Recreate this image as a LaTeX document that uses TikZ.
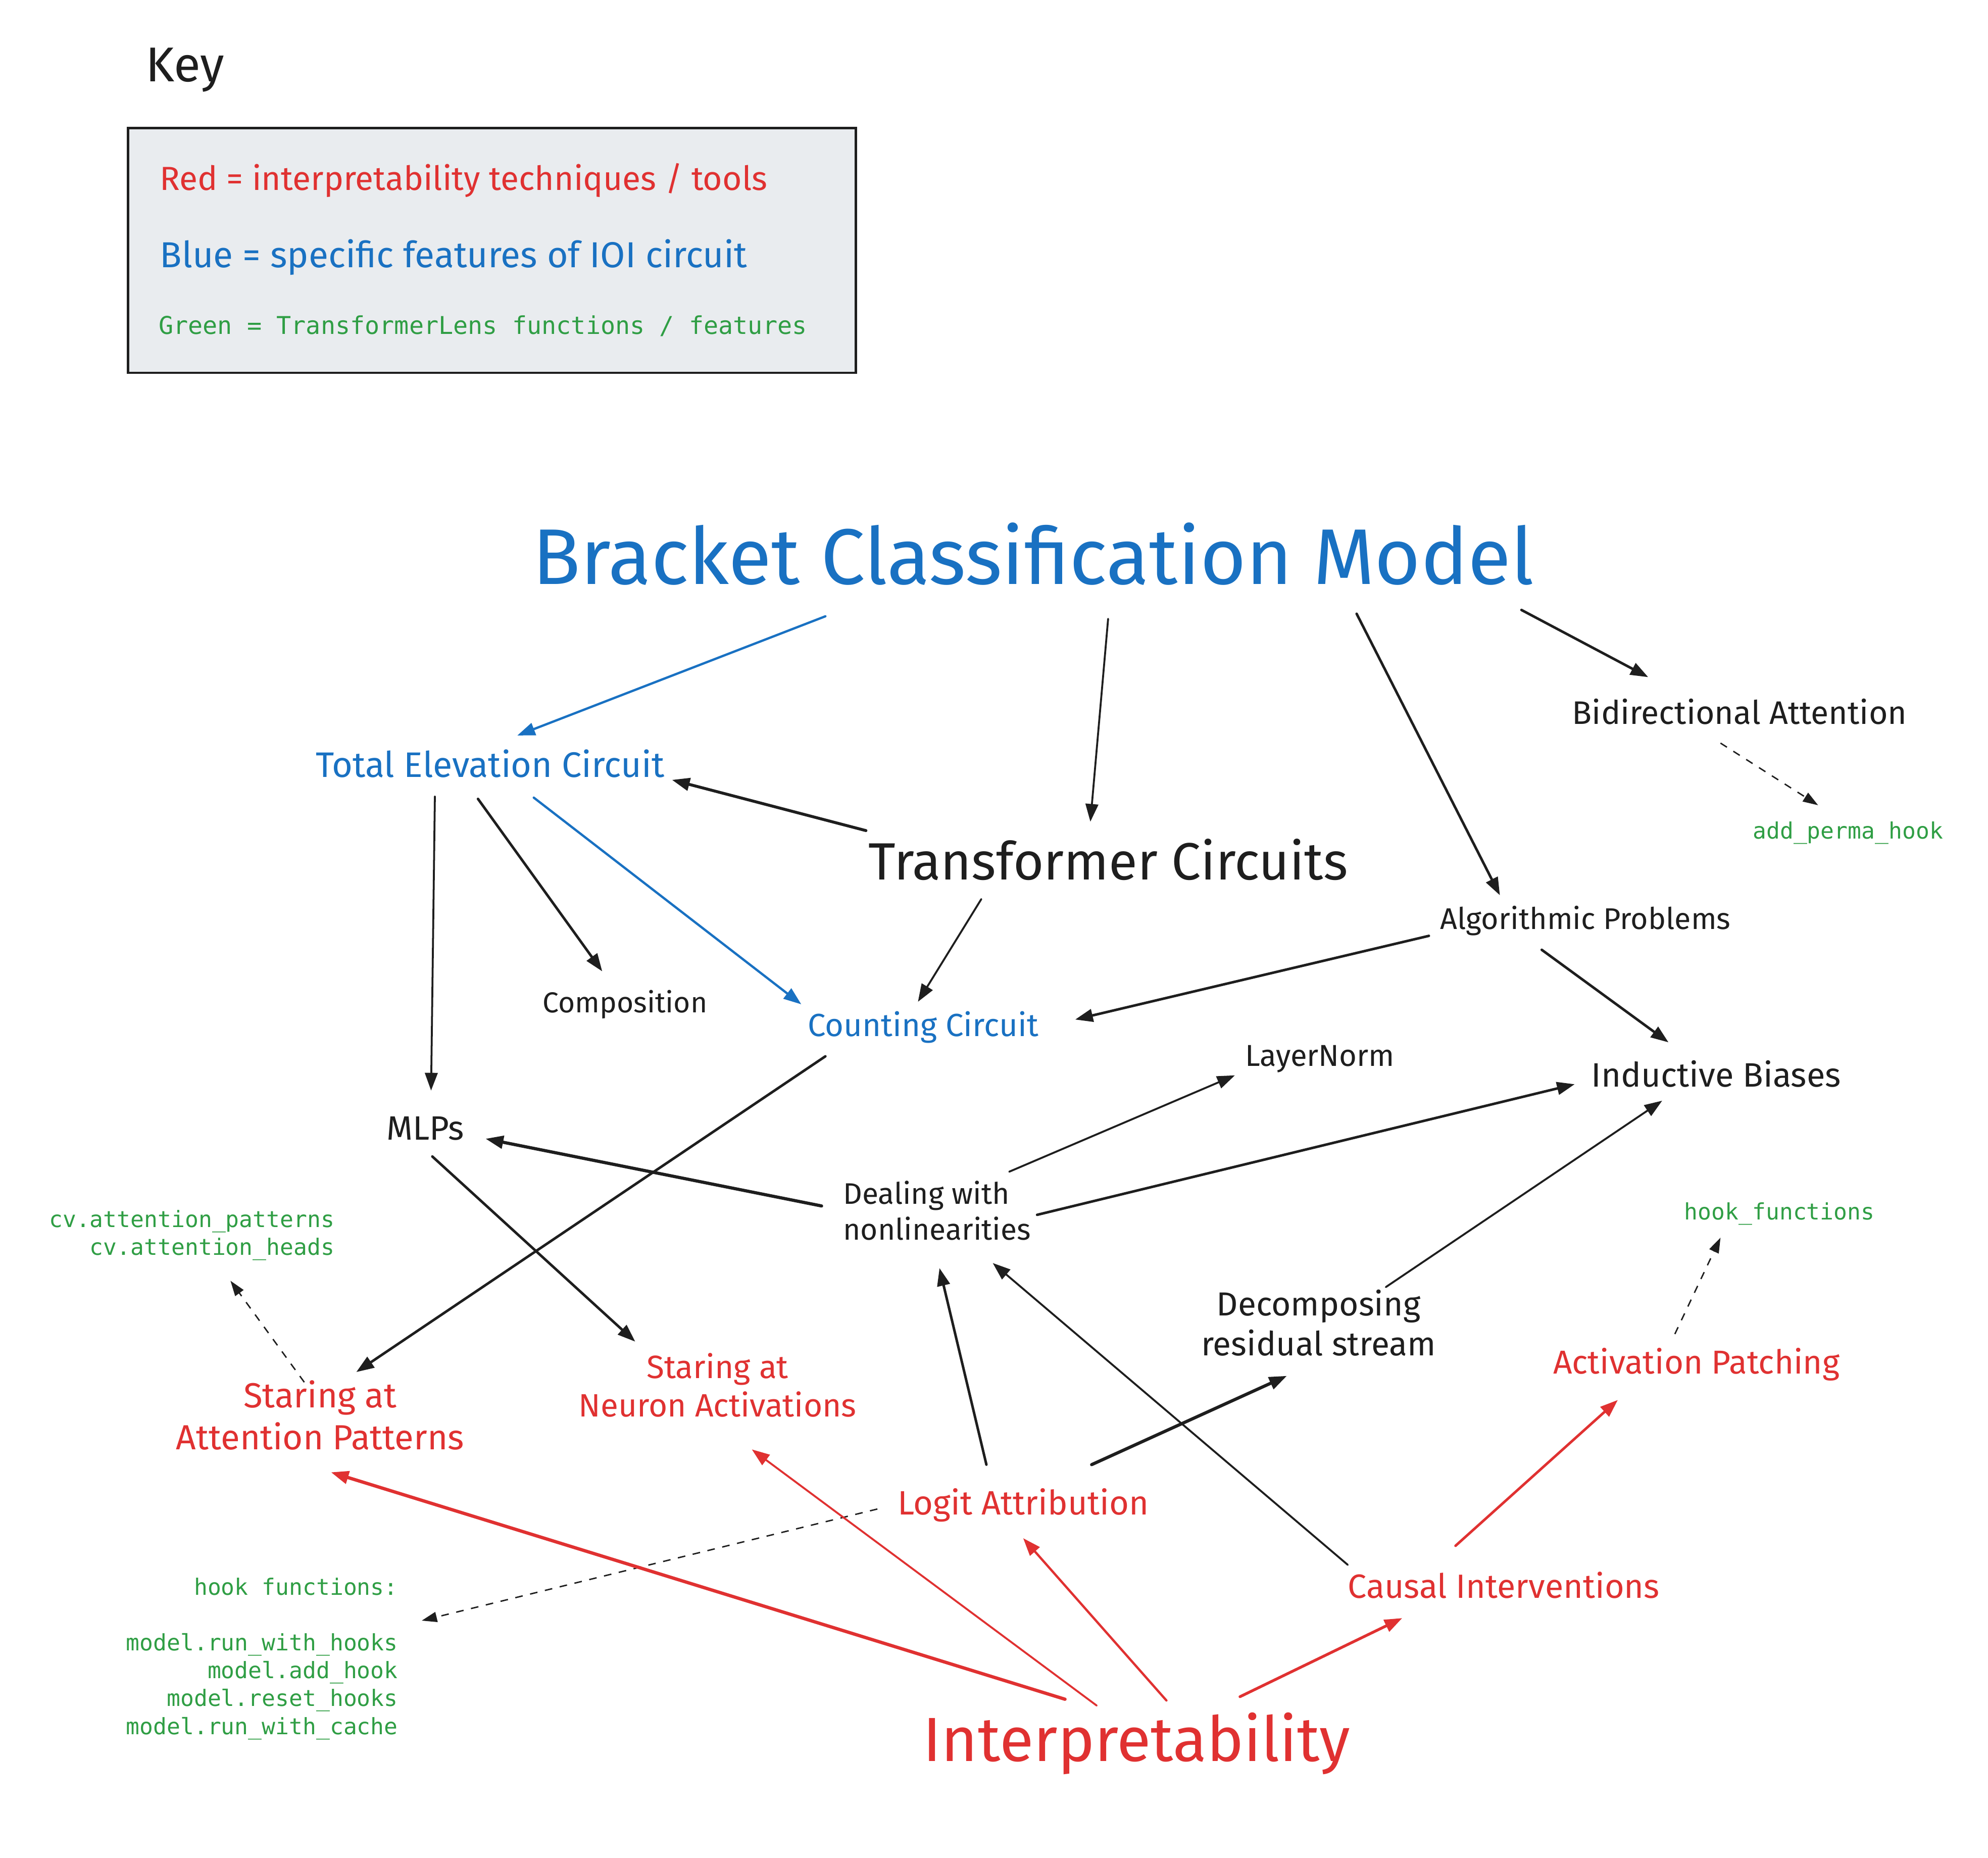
\documentclass[tikz,border=0pt]{standalone}
\usepackage{fontspec}
\setmainfont{Fira Sans}
\setmonofont{DejaVu Sans Mono}
\usetikzlibrary{arrows.meta,calc}
\definecolor{exred}{HTML}{E03131}
\definecolor{exblue}{HTML}{1971C2}
\definecolor{exgreen}{HTML}{2F9E44}
\definecolor{exblack}{HTML}{1E1E1E}
\definecolor{exfill}{HTML}{E9ECEF}
\newcommand{\fitw}[2]{\resizebox{#1pt}{!}{#2}}
\tikzset{
  hand/.style={inner sep=0pt, font=\fontsize{20}{24}\selectfont},
  code/.style={inner sep=0pt, font=\fontsize{17.8}{22}\selectfont\ttfamily, text=exgreen},
  arr/.style={-{Triangle[length=14pt,width=10pt]}, line width=2pt, line cap=round, draw=exblack},
  thinarr/.style={arr, line width=1.5pt},
  dasharr/.style={-{Triangle[length=12pt,width=8pt]}, line width=1.1pt, draw=exblack, dash pattern=on 6pt off 6pt},
  redarr/.style={arr, draw=exred},
  bluearr/.style={arr, draw=exblue, line width=1.8pt}
}
\begin{document}
\begin{tikzpicture}[x=1pt,y=-1pt]
\fill[white] (0,0) rectangle (1568,1465);
\useasboundingbox (0,0) rectangle (1568,1465);

% Key
\node[hand, text=exblack] (key) at (146,55) {\fitw{62}{Key}};
\draw[line width=1.8pt, draw=exblack, fill=exfill] (101,101) rectangle (675,294);
\node[hand, text=exred, anchor=west] (kred) at (126,142) {\fitw{479}{Red = interpretability techniques / tools}};
\node[hand, text=exblue, anchor=west] (kblue) at (126,203) {\fitw{463}{Blue = specific features of IOI circuit}};
\node[inner sep=0pt, font=\fontsize{19.3}{24}\selectfont\ttfamily, text=exgreen, anchor=west] (kgreen) at (125,257) {Green = TransformerLens functions / features};

% Main nodes
\node[hand, text=exblue] (bcm) at (815,437) {\fitw{790}{Bracket Classification Model}};
\node[hand, text=exblue] (tec) at (386.5,602) {\fitw{275}{Total Elevation Circuit}};
\node[hand, text=exblack] (tc) at (874,678) {\fitw{378}{Transformer Circuits}};
\node[hand, text=exblack] (bidir) at (1372,561) {\fitw{264}{Bidirectional Attention}};
\node[code] (perma) at (1457.5,657) {add\_perma\_hook};
\node[hand, text=exblack] (alg) at (1250.5,726) {\fitw{229}{Algorithmic Problems}};
\node[hand, text=exblack] (comp) at (493,792) {\fitw{130}{Composition}};
\node[hand, text=exblue] (count) at (728,810) {\fitw{182}{Counting Circuit}};
\node[hand, text=exblack] (layer) at (1041,835) {\fitw{118}{LayerNorm}};
\node[hand, text=exblack] (induct) at (1353.5,847) {\fitw{197}{Inductive Biases}};
\node[hand, text=exblack] (mlps) at (335.5,890) {\fitw{61}{MLPs}};
\node[hand, text=exblack] (deal) at (739,958) {\fitw{148}{\begin{tabular}{@{}l@{}}Dealing with\\nonlinearities\end{tabular}}};
\node[code] (hookf) at (1403.5,957) {hook\_functions};
\node[code, anchor=east, align=right] (cv) at (264,974) {cv.attention\_patterns\\cv.attention\_heads};
\node[hand, text=exblack] (decomp) at (1040,1047) {\fitw{185}{\begin{tabular}{@{}c@{}}Decomposing\\residual stream\end{tabular}}};
\node[hand, text=exred] (actpatch) at (1338,1076) {\fitw{226}{Activation Patching}};
\node[hand, text=exred] (neuron) at (566,1096) {\fitw{219}{\begin{tabular}{@{}c@{}}Staring at\\Neuron Activations\end{tabular}}};
\node[hand, text=exred] (attn) at (252.5,1120) {\fitw{227}{\begin{tabular}{@{}c@{}}Staring at\\Attention Patterns\end{tabular}}};
\node[hand, text=exred] (logit) at (807,1187) {\fitw{198}{Logit Attribution}};
\node[hand, text=exred] (causal) at (1186,1250) {\fitw{246}{Causal Interventions}};
\node[code, anchor=east, align=right] (hooks) at (314,1308) {hook functions:\\[22pt]model.run\_with\_hooks\\model.add\_hook\\model.reset\_hooks\\model.run\_with\_cache};
\node[hand, text=exred] (interp) at (896.5,1375) {\fitw{337}{Interpretability}};

% Connectors
\draw[bluearr] ($(bcm)+(-164,49)$) -- ($(tec)+(21.5,-22)$);
\draw[thinarr] ($(bcm)+(59,51)$) -- ($(tc)+(-14,-30)$);
\draw[arr] ($(bcm)+(255,47)$) -- ($(alg)+(-67.5,-20)$);
\draw[arr] ($(bcm)+(385,44)$) -- ($(bidir)+(-72,-27)$);
\draw[dasharr] ($(bidir)+(-15,25)$) -- ($(perma)+(-23.5,-22)$);
\draw[arr, line width=2.3pt] ($(tc)+(-191,-23)$) -- ($(tec)+(143.5,13)$);
\draw[thinarr] ($(tc)+(-100,31)$) -- ($(count)+(-4,-20)$);
\draw[thinarr] ($(tec)+(-43.5,26)$) -- ($(mlps)+(4.5,-30)$);
\draw[arr] ($(tec)+(-9.5,28)$) -- ($(comp)+(-18,-26)$);
\draw[bluearr] ($(tec)+(34.5,27)$) -- ($(count)+(-96,-18)$);
\draw[arr] ($(alg)+(-123.5,12)$) -- ($(count)+(120,-6)$);
\draw[arr] ($(alg)+(-34.5,23)$) -- ($(induct)+(-37.5,-25)$);
\draw[arr] ($(count)+(-77,23)$) -- ($(attn)+(28.5,-38)$);
\draw[arr, line width=2.5pt] ($(deal)+(-91,-7)$) -- ($(mlps)+(47.5,8)$);
\draw[thinarr] ($(deal)+(57,-34)$) -- ($(layer)+(-67,13)$);
\draw[arr] ($(deal)+(79,0)$) -- ($(induct)+(-111.5,8)$);
\draw[arr] ($(mlps)+(5.5,22)$) -- ($(neuron)+(-65,-38)$);
\draw[thinarr] ($(decomp)+(53,-32)$) -- ($(induct)+(-42.5,21)$);
\draw[dasharr] ($(attn)+(-12.5,-30)$) -- ($(cv)+(30.5,36)$);
\draw[dasharr] ($(actpatch)+(-17,-24)$) -- ($(hookf)+(-46.5,19)$);
\draw[arr] ($(logit)+(-29,-32)$) -- ($(deal)+(2,42)$);
\draw[arr, line width=2.5pt] ($(logit)+(54,-32)$) -- ($(decomp)+(-25,38)$);
\draw[thinarr] ($(causal)+(-123,-16)$) -- ($(deal)+(44,38)$);
\draw[redarr] ($(causal)+(-38,-31)$) -- ($(actpatch)+(-62,28)$);
\draw[dasharr] ($(logit)+(-115,3)$) -- ($(hooks)+(126,-30)$);
\draw[redarr, line width=2.6pt] ($(interp)+(-56.5,-35)$) -- ($(attn)+(8.5,41)$);
\draw[redarr, line width=1.5pt] ($(interp)+(-31.5,-30)$) -- ($(neuron)+(27,47)$);
\draw[redarr, line width=1.8pt] ($(interp)+(23.5,-34)$) -- ($(logit)+(0,26)$);
\draw[redarr, line width=2.2pt] ($(interp)+(81.5,-37)$) -- ($(causal)+(-80,26)$);
\end{tikzpicture}
\end{document}
